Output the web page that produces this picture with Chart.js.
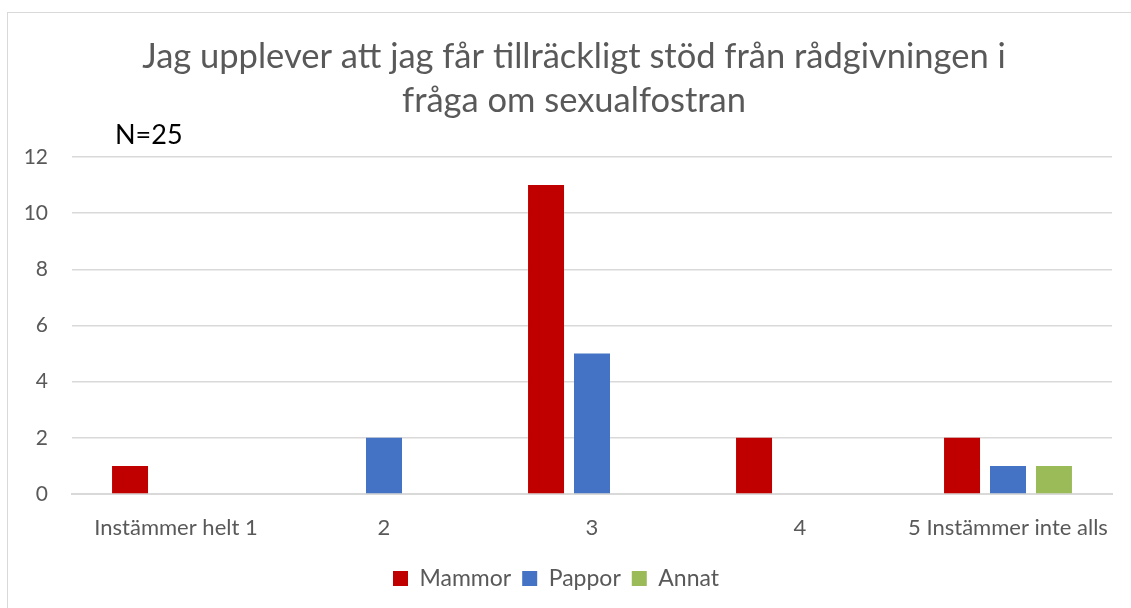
<!DOCTYPE html>
<html>
<head>
<meta charset="utf-8">
<script src="https://cdn.jsdelivr.net/npm/chart.js@4/dist/chart.umd.min.js"></script>
<style>
  html, body { margin: 0; padding: 0; background: #fff; }
  #wrap { position: relative; width: 1131px; height: 608px; }
  #frame { position: absolute; left: 7px; top: 12px; width: 1140px; height: 620px; border-left: 1px solid #d9d9d9; border-top: 1px solid #d9d9d9; box-sizing: border-box; pointer-events: none; }
  canvas { position: absolute; left: 0; top: 0; }
</style>
</head>
<body>
<div id="wrap">
  <div id="frame"></div>
  <canvas id="c" width="1131" height="608"></canvas>
</div>
<script>
const categories = ["Instämmer helt 1", "2", "3", "4", "5 Instämmer inte alls"];
const mammor = [1, 0, 11, 2, 2];
const pappor = [0, 2, 5, 0, 1];
const annat = [0, 0, 0, 0, 1];
const titleLines = ["Jag upplever att jag får tillräckligt stöd från rådgivningen i", "fråga om sexualfostran"];
const noteText = "N=25";

const FONT = "Lato, 'Open Sans', sans-serif";

const textPlugin = {
  id: 'texts',
  afterDraw(chart) {
    const ctx = chart.ctx;
    ctx.save();
    ctx.textAlign = 'center';
    ctx.textBaseline = 'middle';
    ctx.fillStyle = '#595959';
    ctx.font = "34.5px " + FONT;
    ctx.fillText(titleLines[0], 574, 57);
    ctx.fillText(titleLines[1], 574, 101);
    ctx.textAlign = 'left';
    ctx.fillStyle = '#000000';
    ctx.font = "27px " + FONT;
    ctx.fillText(noteText, 115, 135);
    ctx.restore();
  }
};

new Chart(document.getElementById('c'), {
  type: 'bar',
  data: {
    labels: categories,
    datasets: [
      { label: 'Mammor', data: mammor, backgroundColor: '#C00000' },
      { label: 'Pappor', data: pappor, backgroundColor: '#4472C4' },
      { label: 'Annat', data: annat, backgroundColor: '#9BBB59' }
    ]
  },
  options: {
    responsive: false,
    animation: false,
    layout: { padding: { top: 157, right: 19, bottom: 8, left: 0 } },
    datasets: { bar: { categoryPercentage: 0.663, barPercentage: 0.783 } },
    plugins: {
      legend: {
        position: 'bottom',
        labels: { font: { family: FONT, size: 23 }, color: '#595959', boxWidth: 15, boxHeight: 15, padding: 11 }
      },
      title: { display: false },
      tooltip: { enabled: false }
    },
    scales: {
      x: {
        grid: { display: false, drawTicks: false },
        border: { display: true, color: '#d9d9d9', width: 2 },
        ticks: { font: { family: FONT, size: 22 }, color: '#595959', padding: 21, maxRotation: 0, autoSkip: false },
        afterFit(s) { s.height = 62; }
      },
      y: {
        min: 0, max: 12,
        grid: { color: '#d9d9d9', lineWidth: 1.5, drawTicks: false },
        border: { display: false },
        ticks: { stepSize: 2, font: { family: FONT, size: 21 }, color: '#595959', padding: 24 },
        afterFit(s) { s.width = 72; }
      }
    }
  },
  plugins: [textPlugin]
});
</script>
</body>
</html>
